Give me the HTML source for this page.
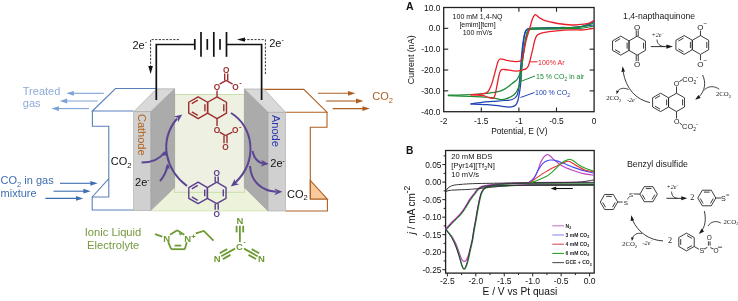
<!DOCTYPE html>
<html><head><meta charset="utf-8">
<style>
html,body{margin:0;padding:0;background:#fff;width:738px;height:301px;overflow:hidden;}
svg{display:block;will-change:transform;}
text{font-family:"Liberation Sans",sans-serif;}
.sf{font-family:"Liberation Serif",serif;}
</style></head><body>
<svg width="738" height="301" viewBox="0 0 738 301">
<polygon points="150.7,210.6 174.6,187.6 244.4,187.6 268.1,210.6" fill="#edf2db"/>
<rect x="174.6" y="94.5" width="69.8" height="97.8" fill="#eef0e2" stroke="#c5dca8" stroke-width="0.9"/>
<line x1="150.7" y1="210.8" x2="268.1" y2="210.8" stroke="#d3e4b8" stroke-width="1"/>
<g fill="none" stroke="#5a80ba" stroke-width="1.1">
<polyline points="156.5,88.5 115.5,88.5 92.4,111 133.7,111"/>
<polyline points="92.4,111 92.4,126.3 108.8,126.3 108.8,197 92.2,197 92.2,210 133.7,210"/>
<line x1="108.8" y1="178.7" x2="92.2" y2="197"/>
</g>
<polygon points="310.3,180.3 310.3,199.1 327.4,199.1" fill="#f9c99e" stroke="#ad5f22" stroke-width="1.1"/>
<g fill="none" stroke="#ad5f22" stroke-width="1.1">
<polyline points="263,89.4 303.8,89.4 327,112.2 285.5,112.2"/>
<polyline points="327,112.2 327,127.3 310.3,127.3 310.3,199.1"/>
<polyline points="327.4,199.1 327.4,211 285.5,211"/>
</g>
<polygon points="150.7,111.75 174.6,88.8 174.6,187.6 150.7,210.6" fill="#ababab" stroke="#9a9a9a" stroke-width="0.6"/>
<polygon points="133.7,111.75 156.7,88.8 174.6,88.8 150.7,111.75" fill="#d9d9d9" stroke="#a0a0a0" stroke-width="0.6"/>
<rect x="133.7" y="111.75" width="17" height="98.85" fill="#d0d0d0" stroke="#a8a8a8" stroke-width="0.6"/>
<polygon points="244.4,89 268.1,112.3 268.1,211 244.4,187.6" fill="#ababab" stroke="#9a9a9a" stroke-width="0.6"/>
<polygon points="244.4,89 263.9,89 285.5,112.3 268.1,112.3" fill="#d9d9d9" stroke="#a0a0a0" stroke-width="0.6"/>
<rect x="268.1" y="112.3" width="17.4" height="98.7" fill="#d0d0d0" stroke="#a8a8a8" stroke-width="0.6"/>
<text transform="translate(137.6,114) rotate(90)" font-size="11" fill="#b2611e">Cathode</text>
<text transform="translate(272.2,115) rotate(90)" font-size="11" fill="#2a35b0">Anode</text>
<g stroke="#111" stroke-width="1.7" fill="none">
<polyline points="156.3,100 156.3,44.5 194.8,44.5"/>
<polyline points="226.5,44.5 261.6,44.5 261.6,100"/>
<line x1="194.8" y1="39" x2="194.8" y2="49.8"/>
<line x1="201" y1="32" x2="201" y2="56.8"/>
<line x1="207.3" y1="39" x2="207.3" y2="49.8"/>
<line x1="213.8" y1="32" x2="213.8" y2="56.8"/>
<line x1="220" y1="39" x2="220" y2="49.8"/>
<line x1="226.5" y1="32" x2="226.5" y2="56.8"/>
</g>
<g stroke="#222" stroke-width="0.9" fill="none" stroke-dasharray="2.2,1.4">
<polyline points="179,39.6 150.6,39.6 150.6,67"/>
<polyline points="265.4,74 265.4,39.6 245,39.6"/>
</g>
<polygon points="148.3,66 152.9,66 150.6,74" fill="#111"/>
<polygon points="245,37.4 245,41.8 237,39.6" fill="#111"/>
<text x="132.5" y="49" font-size="11" fill="#111">2e<tspan font-size="7" dy="-4.6">-</tspan></text>
<text x="269.2" y="46.8" font-size="11" fill="#111">2e<tspan font-size="7" dy="-4.6">-</tspan></text>
<g stroke="#7ea2d6" stroke-width="1.1">
<line x1="103.8" y1="93.3" x2="72" y2="93.3"/>
<line x1="97.8" y1="101" x2="65.5" y2="101"/>
<line x1="89" y1="108.6" x2="57" y2="108.6"/>
</g>
<g fill="#7ea2d6">
<polygon points="66.3,93.3 73.8,90.9 73.8,95.7"/>
<polygon points="59.7,101 67.2,98.6 67.2,103.4"/>
<polygon points="51.4,108.6 58.9,106.2 58.9,111"/>
</g>
<text x="22.8" y="95" font-size="11" fill="#8eabd8">Treated</text>
<text x="22.8" y="107.1" font-size="11" fill="#8eabd8">gas</text>
<g stroke="#3f6eb0" stroke-width="1.1">
<line x1="60" y1="183.3" x2="92" y2="183.3"/>
<line x1="53.5" y1="191.2" x2="85" y2="191.2"/>
<line x1="45.3" y1="198.4" x2="77.5" y2="198.4"/>
</g>
<g fill="#3f6eb0">
<polygon points="97.7,183.3 90.4,180.9 90.4,185.7"/>
<polygon points="90.7,191.2 83.4,188.8 83.4,193.6"/>
<polygon points="83.3,198.4 76,196 76,200.8"/>
</g>
<text x="0.6" y="184.4" font-size="11" fill="#3f6eb0">CO<tspan font-size="7.5" dy="2.5">2</tspan><tspan dy="-2.5"> in gas</tspan></text>
<text x="0.6" y="196.5" font-size="11" fill="#3f6eb0">mixture</text>
<g stroke="#ad5f22" stroke-width="1.1">
<line x1="317.9" y1="93.3" x2="350" y2="93.3"/>
<line x1="326.2" y1="101" x2="358" y2="101"/>
<line x1="332.7" y1="108.6" x2="364.5" y2="108.6"/>
</g>
<g fill="#ad5f22">
<polygon points="355.4,93.3 348,90.9 348,95.7"/>
<polygon points="363.3,101 356,98.6 356,103.4"/>
<polygon points="369.8,108.6 362.5,106.2 362.5,111"/>
</g>
<text x="372.2" y="99.9" font-size="11" fill="#ad5f22">CO<tspan font-size="7.5" dy="2.7">2</tspan></text>
<text x="110.8" y="165.3" font-size="11" fill="#111">CO<tspan font-size="7.5" dy="2.5">2</tspan></text>
<text x="135.1" y="186.2" font-size="11" fill="#111">2e<tspan font-size="7" dy="-4.5">-</tspan></text>
<text x="270.3" y="167.3" font-size="11" fill="#111">2e<tspan font-size="7" dy="-4.5">-</tspan></text>
<text x="287" y="197.6" font-size="11" fill="#111">CO<tspan font-size="7.5" dy="2.5">2</tspan></text>

<polygon points="198.16,96.8 207.6,102.25 207.6,113.15 198.16,118.6 188.72,113.15 188.72,102.25" fill="none" stroke="#9c2f2f" stroke-width="1.4" stroke-linejoin="round"/>
<line x1="191.77" y1="103.61" x2="197.81" y2="100.12" stroke="#9c2f2f" stroke-width="1.4" />
<line x1="197.81" y1="115.28" x2="191.77" y2="111.79" stroke="#9c2f2f" stroke-width="1.4" />
<line x1="204.9" y1="104.21" x2="204.9" y2="111.19" stroke="#9c2f2f" stroke-width="1.4" />
<polygon points="217.04,96.8 226.48,102.25 226.48,113.15 217.04,118.6 207.6,113.15 207.6,102.25" fill="none" stroke="#9c2f2f" stroke-width="1.4" stroke-linejoin="round"/>
<line x1="223.78" y1="104.21" x2="223.78" y2="111.19" stroke="#9c2f2f" stroke-width="1.4" />
<line x1="217.04" y1="96.8" x2="217.04" y2="90.6" stroke="#9c2f2f" stroke-width="1.4" />
<text x="217.04" y="89.59" font-size="8.3" fill="#9c2f2f" text-anchor="middle" font-weight="bold">O</text>
<line x1="219.6" y1="84.2" x2="226.2" y2="80.4" stroke="#9c2f2f" stroke-width="1.4" />
<line x1="226.2" y1="80.4" x2="232.6" y2="84.2" stroke="#9c2f2f" stroke-width="1.4" />
<line x1="224.7" y1="80.6" x2="224.7" y2="73.6" stroke="#9c2f2f" stroke-width="1.4" />
<line x1="227.7" y1="80.6" x2="227.7" y2="73.6" stroke="#9c2f2f" stroke-width="1.4" />
<text x="226.2" y="72.99" font-size="8.3" fill="#9c2f2f" text-anchor="middle" font-weight="bold">O</text>
<text x="235.4" y="89.59" font-size="8.3" fill="#9c2f2f" text-anchor="middle" font-weight="bold">O</text>
<text x="239.3" y="85.2" font-size="7.5" fill="#9c2f2f" font-weight="bold">-</text>
<line x1="217.04" y1="118.6" x2="217.04" y2="126" stroke="#9c2f2f" stroke-width="1.4" />
<text x="217.04" y="132.89" font-size="8.3" fill="#9c2f2f" text-anchor="middle" font-weight="bold">O</text>
<line x1="219.6" y1="132.1" x2="225.5" y2="135.6" stroke="#9c2f2f" stroke-width="1.4" />
<line x1="225.5" y1="135.6" x2="232.4" y2="132.1" stroke="#9c2f2f" stroke-width="1.4" />
<line x1="224" y1="135.5" x2="224" y2="143.2" stroke="#9c2f2f" stroke-width="1.4" />
<line x1="227" y1="135.5" x2="227" y2="143.2" stroke="#9c2f2f" stroke-width="1.4" />
<text x="225.6" y="149.89" font-size="8.3" fill="#9c2f2f" text-anchor="middle" font-weight="bold">O</text>
<text x="235.2" y="132.89" font-size="8.3" fill="#9c2f2f" text-anchor="middle" font-weight="bold">O</text>
<text x="239.1" y="128.9" font-size="7.5" fill="#9c2f2f" font-weight="bold">-</text>
<polygon points="198.09,182.15 207.4,187.53 207.4,198.28 198.09,203.65 188.78,198.28 188.78,187.53" fill="none" stroke="#5a3f8e" stroke-width="1.4" stroke-linejoin="round"/>
<line x1="191.81" y1="188.9" x2="197.76" y2="185.46" stroke="#5a3f8e" stroke-width="1.4" />
<line x1="197.76" y1="200.34" x2="191.81" y2="196.9" stroke="#5a3f8e" stroke-width="1.4" />
<line x1="204.7" y1="189.46" x2="204.7" y2="196.34" stroke="#5a3f8e" stroke-width="1.4" />
<polygon points="216.71,182.15 226.02,187.53 226.02,198.28 216.71,203.65 207.4,198.28 207.4,187.53" fill="none" stroke="#5a3f8e" stroke-width="1.4" stroke-linejoin="round"/>
<line x1="223.32" y1="189.46" x2="223.32" y2="196.34" stroke="#5a3f8e" stroke-width="1.4" />
<line x1="215.21" y1="182.15" x2="215.21" y2="176.4" stroke="#5a3f8e" stroke-width="1.4" />
<line x1="218.21" y1="182.15" x2="218.21" y2="176.4" stroke="#5a3f8e" stroke-width="1.4" />
<text x="216.71" y="175.59" font-size="8.3" fill="#5a3f8e" text-anchor="middle" font-weight="bold">O</text>
<line x1="215.21" y1="203.65" x2="215.21" y2="209.8" stroke="#5a3f8e" stroke-width="1.4" />
<line x1="218.21" y1="203.65" x2="218.21" y2="209.8" stroke="#5a3f8e" stroke-width="1.4" />
<text x="216.71" y="216.79" font-size="8.3" fill="#5a3f8e" text-anchor="middle" font-weight="bold">O</text>
<path d="M187,186 C166,170 158,142 177,118.5" fill="none" stroke="#5b4491" stroke-width="2.0"/>
<polygon points="182.2,114.5 177.96,122.18 177.72,117.86 173.64,116.42" fill="#5b4491" stroke="none" stroke-width="1" />
<path d="M141.6,162.5 C152,162.5 160,159 164.8,152" fill="none" stroke="#5b4491" stroke-width="2.0"/>
<path d="M160,181.2 C163.5,177 166.5,171 167.8,165" fill="none" stroke="#5b4491" stroke-width="2.0"/>
<polygon points="165.2,150.5 167.15,155.6 162.75,155.38" fill="#5b4491" stroke="none" stroke-width="1" />
<polygon points="167.8,163.5 169.75,168.6 165.35,168.38" fill="#5b4491" stroke="none" stroke-width="1" />
<path d="M231,113 C253,126 259,160 235,183" fill="none" stroke="#5b4491" stroke-width="2.0"/>
<polygon points="230.8,186.5 234.8,178.69 235.17,183 239.3,184.31" fill="#5b4491" stroke="none" stroke-width="1" />
<path d="M252.4,151 C254,158 258,162.5 263,163.5" fill="none" stroke="#5b4491" stroke-width="2.0"/>
<polygon points="268.8,164 260.5,166.59 263.23,163.44 261.18,159.82" fill="#5b4491" stroke="none" stroke-width="1" />
<path d="M250,166 C251,182 262,191 276,191.7" fill="none" stroke="#5b4491" stroke-width="2.0"/>
<polygon points="282.3,191.8 274.3,195.2 276.7,191.8 274.3,188.4" fill="#5b4491" stroke="none" stroke-width="1" />
<text x="113" y="235.8" font-size="11.2" fill="#76993e" text-anchor="middle">Ionic Liquid</text>
<text x="113.2" y="248.9" font-size="11.2" fill="#76993e" text-anchor="middle">Electrolyte</text>
<line x1="155" y1="234.2" x2="162.3" y2="236.6" stroke="#6e9a34" stroke-width="1.8" />
<text x="166.6" y="241.62" font-size="9.5" fill="#6e9a34" text-anchor="middle" font-weight="bold">N</text>
<line x1="170" y1="234.8" x2="177.2" y2="230.2" stroke="#6e9a34" stroke-width="1.8" />
<line x1="177.2" y1="230.2" x2="184.3" y2="234.8" stroke="#6e9a34" stroke-width="1.8" />
<text x="187.8" y="241.62" font-size="9.5" fill="#6e9a34" text-anchor="middle" font-weight="bold">N</text>
<text x="191.2" y="239.2" font-size="7.5" fill="#6e9a34" font-weight="bold">+</text>
<line x1="186.8" y1="242.2" x2="184.8" y2="249.2" stroke="#6e9a34" stroke-width="1.8" />
<line x1="184.8" y1="249.2" x2="171.2" y2="249.2" stroke="#6e9a34" stroke-width="1.8" />
<line x1="171.2" y1="249.2" x2="168.2" y2="242.2" stroke="#6e9a34" stroke-width="1.8" />
<line x1="174.6" y1="245.6" x2="181.2" y2="245.6" stroke="#6e9a34" stroke-width="1.8" />
<line x1="179.2" y1="233.4" x2="181.4" y2="235" stroke="#6e9a34" stroke-width="1.5" />
<polyline points="195.8,233.3 203.8,230.9 213.5,240.6" fill="none" stroke="#6e9a34" stroke-width="1.8"/>
<text x="239.9" y="224.22" font-size="9.5" fill="#6e9a34" text-anchor="middle" font-weight="bold">N</text>
<text x="239.4" y="250.02" font-size="9.5" fill="#6e9a34" text-anchor="middle" font-weight="bold">C</text>
<text x="243.6" y="244.2" font-size="6.5" fill="#6e9a34" font-weight="bold">-</text>
<text x="217.3" y="262.42" font-size="9.5" fill="#6e9a34" text-anchor="middle" font-weight="bold">N</text>
<text x="261.5" y="262.42" font-size="9.5" fill="#6e9a34" text-anchor="middle" font-weight="bold">N</text>
<line x1="239.9" y1="225.8" x2="239.9" y2="242" stroke="#6e9a34" stroke-width="1.8" />
<line x1="236.6" y1="225.8" x2="236.6" y2="232.4" stroke="#6e9a34" stroke-width="1.8" />
<line x1="243.2" y1="225.8" x2="243.2" y2="232.4" stroke="#6e9a34" stroke-width="1.8" />
<line x1="235" y1="248.6" x2="221.3" y2="256.2" stroke="#6e9a34" stroke-width="1.8" />
<line x1="227.23" y1="249.13" x2="219.7" y2="253.31" stroke="#6e9a34" stroke-width="1.8" />
<line x1="230.44" y1="254.91" x2="222.9" y2="259.09" stroke="#6e9a34" stroke-width="1.8" />
<line x1="244" y1="248.6" x2="257.6" y2="256.2" stroke="#6e9a34" stroke-width="1.8" />
<line x1="248.51" y1="254.9" x2="255.99" y2="259.08" stroke="#6e9a34" stroke-width="1.8" />
<line x1="251.73" y1="249.14" x2="259.21" y2="253.32" stroke="#6e9a34" stroke-width="1.8" />
<rect x="443.7" y="7.5" width="150.4" height="104.2" fill="none" stroke="#222" stroke-width="1.3"/>
<line x1="443.7" y1="28.34" x2="448.2" y2="28.34" stroke="#222" stroke-width="1.1" />
<line x1="594.1" y1="28.34" x2="589.6" y2="28.34" stroke="#222" stroke-width="1.1" />
<line x1="443.7" y1="49.18" x2="448.2" y2="49.18" stroke="#222" stroke-width="1.1" />
<line x1="594.1" y1="49.18" x2="589.6" y2="49.18" stroke="#222" stroke-width="1.1" />
<line x1="443.7" y1="70.02" x2="448.2" y2="70.02" stroke="#222" stroke-width="1.1" />
<line x1="594.1" y1="70.02" x2="589.6" y2="70.02" stroke="#222" stroke-width="1.1" />
<line x1="443.7" y1="90.86" x2="448.2" y2="90.86" stroke="#222" stroke-width="1.1" />
<line x1="594.1" y1="90.86" x2="589.6" y2="90.86" stroke="#222" stroke-width="1.1" />
<line x1="481.3" y1="7.5" x2="481.3" y2="11.7" stroke="#222" stroke-width="1.1" />
<line x1="481.3" y1="111.7" x2="481.3" y2="107.5" stroke="#222" stroke-width="1.1" />
<line x1="518.9" y1="7.5" x2="518.9" y2="11.7" stroke="#222" stroke-width="1.1" />
<line x1="518.9" y1="111.7" x2="518.9" y2="107.5" stroke="#222" stroke-width="1.1" />
<line x1="556.5" y1="7.5" x2="556.5" y2="11.7" stroke="#222" stroke-width="1.1" />
<line x1="556.5" y1="111.7" x2="556.5" y2="107.5" stroke="#222" stroke-width="1.1" />
<text x="440.4" y="10.5" font-size="8.4" fill="#111" text-anchor="end" >10.0</text>
<text x="440.4" y="31.34" font-size="8.4" fill="#111" text-anchor="end" >0.0</text>
<text x="440.4" y="52.18" font-size="8.4" fill="#111" text-anchor="end" >-10.0</text>
<text x="440.4" y="73.02" font-size="8.4" fill="#111" text-anchor="end" >-20.0</text>
<text x="440.4" y="93.86" font-size="8.4" fill="#111" text-anchor="end" >-30.0</text>
<text x="440.4" y="114.7" font-size="8.4" fill="#111" text-anchor="end" >-40.0</text>
<text x="443.7" y="124.1" font-size="8.4" fill="#111" text-anchor="middle" >-2</text>
<text x="481.3" y="124.1" font-size="8.4" fill="#111" text-anchor="middle" >-1.5</text>
<text x="518.9" y="124.1" font-size="8.4" fill="#111" text-anchor="middle" >-1</text>
<text x="556.5" y="124.1" font-size="8.4" fill="#111" text-anchor="middle" >-0.5</text>
<text x="594.1" y="124.1" font-size="8.4" fill="#111" text-anchor="middle" >0</text>
<text x="519.3" y="133.7" font-size="8.4" fill="#111" text-anchor="middle" >Potential, E (V)</text>
<text transform="translate(413.6,59.8) rotate(-90)" font-size="8.9" fill="#111" text-anchor="middle">Current (nA)</text>
<text x="405.9" y="10.1" font-size="10.5" fill="#111" font-weight="bold">A</text>
<text x="477.5" y="19.2" font-size="7" fill="#111" text-anchor="middle" >100 mM 1,4-NQ</text>
<text x="477.5" y="27.3" font-size="7" fill="#111" text-anchor="middle" >[emim][tcm]</text>
<text x="477.5" y="35.1" font-size="7" fill="#111" text-anchor="middle" >100 mV/s</text>
<path d="M470.5,103.9 C472.4,103.63 478.12,102.72 481.9,102.3 C485.68,101.88 489.42,101.7 493.2,101.4 C496.98,101.1 501.43,100.82 504.6,100.5 C507.77,100.18 510.15,100.3 512.2,99.5 C514.25,98.7 515.8,97.75 516.9,95.7 C518,93.65 518.27,90.83 518.8,87.2 C519.33,83.57 519.7,78.43 520.1,73.9 C520.5,69.37 520.83,64.32 521.2,60 C521.57,55.68 521.88,51.67 522.3,48 C522.72,44.33 523.17,40.83 523.7,38 C524.23,35.17 524.7,32.58 525.5,31 C526.3,29.42 526.92,29 528.5,28.5 C530.08,28 529.75,28.17 535,28 C540.25,27.83 552.5,27.67 560,27.5 C567.5,27.33 574.33,28 580,27 C585.67,26 591.67,22.42 594,21.5" fill="none" stroke="#1f42b4" stroke-width="1.25" stroke-linejoin="round" />
<path d="M470.5,104 C473.35,104.1 482.55,104.25 487.6,104.6 C492.65,104.95 497.33,105.68 500.8,106.1 C504.27,106.52 506.18,107.1 508.4,107.1 C510.62,107.1 512.68,106.73 514.1,106.1 C515.52,105.47 516.12,104.87 516.9,103.3 C517.68,101.73 518.17,100.02 518.8,96.7 C519.43,93.38 520.25,87.85 520.7,83.4 C521.15,78.95 521.22,74.73 521.5,70 C521.78,65.27 522.1,59.33 522.4,55 C522.7,50.67 522.9,47.5 523.3,44 C523.7,40.5 524.18,36.42 524.8,34 C525.42,31.58 525.8,30.37 527,29.5 C528.2,28.63 526.5,28.97 532,28.8 C537.5,28.63 549.67,29.13 560,28.5 C570.33,27.87 588.33,25.58 594,25" fill="none" stroke="#1f42b4" stroke-width="1.25" stroke-linejoin="round" />
<path d="M447.8,95.2 C450.32,95.13 457.22,95.03 462.9,94.8 C468.58,94.57 476.22,94.28 481.9,93.8 C487.58,93.32 493.22,92.68 497,91.9 C500.78,91.12 502.07,90.52 504.6,89.1 C507.13,87.68 510.15,84.98 512.2,83.4 C514.25,81.82 515.63,81.18 516.9,79.6 C518.17,78.02 519,76.1 519.8,73.9 C520.6,71.7 521.12,69.55 521.7,66.4 C522.28,63.25 522.78,58.57 523.3,55 C523.82,51.43 524.27,48.33 524.8,45 C525.33,41.67 525.88,37.5 526.5,35 C527.12,32.5 527.67,31.1 528.5,30 C529.33,28.9 529.58,28.7 531.5,28.4 C533.42,28.1 535.25,28.3 540,28.2 C544.75,28.1 553.33,28.03 560,27.8 C566.67,27.57 574.33,27.6 580,26.8 C585.67,26 591.67,23.63 594,23" fill="none" stroke="#1c8a32" stroke-width="1.25" stroke-linejoin="round" />
<path d="M447.8,95.6 C451.5,95.75 462.75,96.17 470,96.5 C477.25,96.83 486.17,97.1 491.3,97.6 C496.43,98.1 498.27,99.33 500.8,99.5 C503.33,99.67 504.28,99.38 506.5,98.6 C508.72,97.82 512.2,96.38 514.1,94.8 C516,93.22 516.95,91 517.9,89.1 C518.85,87.2 519.23,85.93 519.8,83.4 C520.37,80.87 520.83,77.8 521.3,73.9 C521.77,70 522.12,64.32 522.6,60 C523.08,55.68 523.67,51.67 524.2,48 C524.73,44.33 525.2,40.83 525.8,38 C526.4,35.17 526.93,32.45 527.8,31 C528.67,29.55 528.97,29.63 531,29.3 C533.03,28.97 535.17,29.08 540,29 C544.83,28.92 553.33,28.92 560,28.8 C566.67,28.68 574.33,28.77 580,28.3 C585.67,27.83 591.67,26.38 594,26" fill="none" stroke="#1c8a32" stroke-width="1.25" stroke-linejoin="round" />
<path d="M470.5,94.8 C472.4,94.63 479.05,94.28 481.9,93.8 C484.75,93.32 486.03,93.32 487.6,91.9 C489.17,90.48 490.05,88.62 491.3,85.3 C492.55,81.98 493.98,75.95 495.1,72 C496.22,68.05 497.12,63.8 498,61.6 C498.88,59.4 498.98,59.02 500.4,58.8 C501.82,58.58 503.9,59.83 506.5,60.3 C509.1,60.77 513.63,61.53 516,61.6 C518.37,61.67 519.62,61.3 520.7,60.7 C521.78,60.1 522.02,59.27 522.5,58 C522.98,56.73 522.98,56.07 523.6,53.1 C524.22,50.13 525.23,44.15 526.2,40.2 C527.17,36.25 528.33,33 529.4,29.4 C530.47,25.8 531.6,21.05 532.6,18.6 C533.6,16.15 534.32,14.88 535.4,14.7 C536.48,14.52 537.58,16.57 539.1,17.5 C540.62,18.43 542.17,19.47 544.5,20.3 C546.83,21.13 550.23,21.88 553.1,22.5 C555.97,23.12 558.22,23.58 561.7,24 C565.18,24.42 570.3,24.97 574,25 C577.7,25.03 581.23,24.57 583.9,24.2 C586.57,23.83 588.32,23.45 590,22.8 C591.68,22.15 593.33,20.72 594,20.3" fill="none" stroke="#e8202a" stroke-width="1.3" stroke-linejoin="round" />
<path d="M594,28.3 C592.32,28.57 587.23,29.63 583.9,29.9 C580.57,30.17 577.28,29.87 574,29.9 C570.72,29.93 567.88,29.85 564.2,30.1 C560.52,30.35 555.38,30.98 551.9,31.4 C548.42,31.82 545.35,32.2 543.3,32.6 C541.25,33 540.67,33.32 539.6,33.8 C538.53,34.28 537.7,34.43 536.9,35.5 C536.1,36.57 535.52,37.8 534.8,40.2 C534.08,42.6 533.32,46.85 532.6,49.9 C531.88,52.95 531.22,55.82 530.5,58.5 C529.78,61.18 529.02,64.32 528.3,66 C527.58,67.68 527.1,67.97 526.2,68.6 C525.3,69.23 524.6,69.38 522.9,69.8 C521.2,70.22 519.05,71.15 516,71.1 C512.95,71.05 507.13,69.65 504.6,69.5 C502.07,69.35 501.75,69.15 500.8,70.2 C499.85,71.25 499.53,73.28 498.9,75.8 C498.27,78.32 497.63,82.13 497,85.3 C496.37,88.47 495.73,92.65 495.1,94.8 C494.47,96.95 494.3,97.73 493.2,98.2 C492.1,98.67 490.07,98.02 488.5,97.6 C486.93,97.18 485.53,96.1 483.8,95.7 C482.07,95.3 480.32,95.35 478.1,95.2 C475.88,95.05 471.77,94.87 470.5,94.8" fill="none" stroke="#e8202a" stroke-width="1.3" stroke-linejoin="round" />
<line x1="529.5" y1="61.8" x2="537.5" y2="61.8" stroke="#e8202a" stroke-width="1" />
<line x1="520.5" y1="81.5" x2="535" y2="76" stroke="#1c8a32" stroke-width="1" />
<line x1="520.5" y1="97.5" x2="534.5" y2="92.5" stroke="#1f42b4" stroke-width="1" />
<text x="538" y="65" font-size="7" fill="#e8202a">100% Ar</text>
<text x="536" y="78.8" font-size="7" fill="#1c8a32">15 % CO<tspan font-size="5" dy="2">2</tspan><tspan dy="-2"> in air</tspan></text>
<text x="535" y="95.1" font-size="7" fill="#1f42b4">100 % CO<tspan font-size="5" dy="2">2</tspan></text>
<rect x="445.6" y="150.5" width="148.6" height="122.6" fill="none" stroke="#222" stroke-width="1.3"/>
<line x1="442.3" y1="269.69" x2="445.6" y2="269.69" stroke="#222" stroke-width="1" />
<line x1="443.6" y1="260.93" x2="445.6" y2="260.93" stroke="#222" stroke-width="1" />
<line x1="442.3" y1="252.18" x2="445.6" y2="252.18" stroke="#222" stroke-width="1" />
<line x1="443.6" y1="243.42" x2="445.6" y2="243.42" stroke="#222" stroke-width="1" />
<line x1="442.3" y1="234.66" x2="445.6" y2="234.66" stroke="#222" stroke-width="1" />
<line x1="443.6" y1="225.9" x2="445.6" y2="225.9" stroke="#222" stroke-width="1" />
<line x1="442.3" y1="217.15" x2="445.6" y2="217.15" stroke="#222" stroke-width="1" />
<line x1="443.6" y1="208.39" x2="445.6" y2="208.39" stroke="#222" stroke-width="1" />
<line x1="442.3" y1="199.63" x2="445.6" y2="199.63" stroke="#222" stroke-width="1" />
<line x1="443.6" y1="190.87" x2="445.6" y2="190.87" stroke="#222" stroke-width="1" />
<line x1="442.3" y1="182.12" x2="445.6" y2="182.12" stroke="#222" stroke-width="1" />
<line x1="443.6" y1="173.36" x2="445.6" y2="173.36" stroke="#222" stroke-width="1" />
<line x1="442.3" y1="164.6" x2="445.6" y2="164.6" stroke="#222" stroke-width="1" />
<line x1="443.6" y1="155.84" x2="445.6" y2="155.84" stroke="#222" stroke-width="1" />
<line x1="447.35" y1="273.1" x2="447.35" y2="276.4" stroke="#222" stroke-width="1" />
<line x1="461.58" y1="273.1" x2="461.58" y2="275.1" stroke="#222" stroke-width="1" />
<line x1="475.8" y1="273.1" x2="475.8" y2="276.4" stroke="#222" stroke-width="1" />
<line x1="490.03" y1="273.1" x2="490.03" y2="275.1" stroke="#222" stroke-width="1" />
<line x1="504.25" y1="273.1" x2="504.25" y2="276.4" stroke="#222" stroke-width="1" />
<line x1="518.48" y1="273.1" x2="518.48" y2="275.1" stroke="#222" stroke-width="1" />
<line x1="532.7" y1="273.1" x2="532.7" y2="276.4" stroke="#222" stroke-width="1" />
<line x1="546.93" y1="273.1" x2="546.93" y2="275.1" stroke="#222" stroke-width="1" />
<line x1="561.15" y1="273.1" x2="561.15" y2="276.4" stroke="#222" stroke-width="1" />
<line x1="575.38" y1="273.1" x2="575.38" y2="275.1" stroke="#222" stroke-width="1" />
<line x1="589.6" y1="273.1" x2="589.6" y2="276.4" stroke="#222" stroke-width="1" />
<text x="441.4" y="167.6" font-size="8.3" fill="#111" text-anchor="end" >0.05</text>
<text x="441.4" y="185.12" font-size="8.3" fill="#111" text-anchor="end" >0.00</text>
<text x="441.4" y="202.63" font-size="8.3" fill="#111" text-anchor="end" >-0.05</text>
<text x="441.4" y="220.15" font-size="8.3" fill="#111" text-anchor="end" >-0.10</text>
<text x="441.4" y="237.66" font-size="8.3" fill="#111" text-anchor="end" >-0.15</text>
<text x="441.4" y="255.18" font-size="8.3" fill="#111" text-anchor="end" >-0.20</text>
<text x="441.4" y="272.69" font-size="8.3" fill="#111" text-anchor="end" >-0.25</text>
<text x="447.35" y="283.7" font-size="8.5" fill="#111" text-anchor="middle" >-2.5</text>
<text x="475.8" y="283.7" font-size="8.5" fill="#111" text-anchor="middle" >-2.0</text>
<text x="504.25" y="283.7" font-size="8.5" fill="#111" text-anchor="middle" >-1.5</text>
<text x="532.7" y="283.7" font-size="8.5" fill="#111" text-anchor="middle" >-1.0</text>
<text x="561.15" y="283.7" font-size="8.5" fill="#111" text-anchor="middle" >-0.5</text>
<text x="589.6" y="283.7" font-size="8.5" fill="#111" text-anchor="middle" >0.0</text>
<text x="519.9" y="294.5" font-size="10.2" fill="#111" text-anchor="middle" >E / V vs Pt quasi</text>
<text transform="translate(415.2,210) rotate(-90)" font-size="10" fill="#111" text-anchor="middle"><tspan font-style="italic">j</tspan> / mA cm<tspan font-size="8.5" dy="-5.5">-2</tspan></text>
<text x="405.9" y="154" font-size="10.2" fill="#111" font-weight="bold">B</text>
<text x="451.3" y="159.1" font-size="7.6" fill="#111" >20 mM BDS</text>
<text x="451.3" y="168.1" font-size="7.6" fill="#111">[Pyr14][Tf<tspan font-size="5.5" dy="1.8">2</tspan><tspan dy="-1.8">N]</tspan></text>
<text x="451.3" y="176.9" font-size="7.6" fill="#111" >10 mV/s</text>
<path d="M594,184.7 C588.33,184.72 570.67,184.77 560,184.8 C549.33,184.83 540,184.78 530,184.9 C520,185.02 506.7,185.32 500,185.5 C493.3,185.68 492.22,185.68 489.8,186 C487.38,186.32 486.63,186.8 485.5,187.4 C484.37,188 483.82,188.37 483,189.6 C482.18,190.83 481.43,192 480.6,194.8 C479.77,197.6 478.82,202.25 478,206.4 C477.18,210.55 476.4,215.8 475.7,219.7 C475,223.6 474.37,226.48 473.8,229.8 C473.23,233.12 472.88,236.57 472.3,239.6 C471.72,242.63 470.92,245.52 470.3,248 C469.68,250.48 469.22,252.57 468.6,254.5 C467.98,256.43 467.33,258.43 466.6,259.6 C465.87,260.77 465,261.52 464.2,261.5 C463.4,261.48 462.62,260.92 461.8,259.5 C460.98,258.08 460.27,255.58 459.3,253 C458.33,250.42 457.28,246.83 456,244 C454.72,241.17 453.33,238.4 451.6,236 C449.87,233.6 446.6,230.67 445.6,229.6" fill="none" stroke="#c040c0" stroke-width="1.2" stroke-linejoin="round" />
<path d="M445.3,229.3 C446.58,227.92 450.6,223.48 453,221 C455.4,218.52 457.77,216.62 459.7,214.4 C461.63,212.18 462.95,210.2 464.6,207.7 C466.25,205.2 467.93,201.88 469.6,199.4 C471.27,196.92 473.22,194.57 474.6,192.8 C475.98,191.03 476.52,189.92 477.9,188.8 C479.28,187.68 480.4,186.82 482.9,186.1 C485.4,185.38 490.1,184.9 492.9,184.5 C495.7,184.1 493.57,184.03 499.7,183.7 C505.83,183.37 514.03,182.73 529.7,182.5 C545.37,182.27 583.03,182.33 593.7,182.3" fill="none" stroke="#c040c0" stroke-width="1.1" stroke-linejoin="round" />
<path d="M594.5,185.1 C588.83,185.12 571.17,185.17 560.5,185.2 C549.83,185.23 540.5,185.18 530.5,185.3 C520.5,185.42 507.2,185.72 500.5,185.9 C493.8,186.08 492.72,186.08 490.3,186.4 C487.88,186.72 487.13,187.2 486,187.8 C484.87,188.4 484.32,188.77 483.5,190 C482.68,191.23 481.93,192.4 481.1,195.2 C480.27,198 479.32,202.65 478.5,206.8 C477.68,210.95 476.9,216.2 476.2,220.1 C475.5,224 474.87,226.88 474.3,230.2 C473.73,233.52 473.38,236.92 472.8,240 C472.22,243.08 471.42,245.93 470.8,248.7 C470.18,251.47 469.72,254.02 469.1,256.6 C468.48,259.18 467.83,262.1 467.1,264.2 C466.37,266.3 465.47,268.82 464.7,269.2 C463.93,269.58 463.27,268.3 462.5,266.5 C461.73,264.7 461.1,261.62 460.1,258.4 C459.1,255.18 457.83,250.65 456.5,247.2 C455.17,243.75 453.83,240.67 452.1,237.7 C450.37,234.73 447.1,230.78 446.1,229.4" fill="none" stroke="#20a020" stroke-width="1.1" stroke-linejoin="round" />
<path d="M446.1,230.1 C447.38,228.72 451.4,224.28 453.8,221.8 C456.2,219.32 458.57,217.42 460.5,215.2 C462.43,212.98 463.75,211 465.4,208.5 C467.05,206 468.73,202.68 470.4,200.2 C472.07,197.72 474.02,195.37 475.4,193.6 C476.78,191.83 477.32,190.72 478.7,189.6 C480.08,188.48 481.2,187.62 483.7,186.9 C486.2,186.18 490.9,185.7 493.7,185.3 C496.5,184.9 494.37,184.83 500.5,184.5 C506.63,184.17 514.83,183.53 530.5,183.3 C546.17,183.07 583.83,183.13 594.5,183.1" fill="none" stroke="#20a020" stroke-width="1.0" stroke-linejoin="round" />
<path d="M594,184.9 C588.33,184.92 570.67,184.97 560,185 C549.33,185.03 540,184.98 530,185.1 C520,185.22 506.7,185.52 500,185.7 C493.3,185.88 492.22,185.88 489.8,186.2 C487.38,186.52 486.63,187 485.5,187.6 C484.37,188.2 483.82,188.57 483,189.8 C482.18,191.03 481.43,192.2 480.6,195 C479.77,197.8 478.82,202.45 478,206.6 C477.18,210.75 476.4,216 475.7,219.9 C475,223.8 474.37,226.68 473.8,230 C473.23,233.32 472.88,236.72 472.3,239.8 C471.72,242.88 470.92,245.73 470.3,248.5 C469.68,251.27 469.22,253.82 468.6,256.4 C467.98,258.98 467.33,261.9 466.6,264 C465.87,266.1 464.97,268.62 464.2,269 C463.43,269.38 462.77,268.1 462,266.3 C461.23,264.5 460.6,261.42 459.6,258.2 C458.6,254.98 457.33,250.45 456,247 C454.67,243.55 453.33,240.47 451.6,237.5 C449.87,234.53 446.6,230.58 445.6,229.2" fill="none" stroke="#363048" stroke-width="1.0" stroke-linejoin="round" />
<path d="M445.6,229.8 C446.88,228.42 450.9,223.98 453.3,221.5 C455.7,219.02 458.07,217.12 460,214.9 C461.93,212.68 463.25,210.7 464.9,208.2 C466.55,205.7 468.23,202.38 469.9,199.9 C471.57,197.42 473.52,195.07 474.9,193.3 C476.28,191.53 476.82,190.42 478.2,189.3 C479.58,188.18 480.7,187.32 483.2,186.6 C485.7,185.88 490.4,185.4 493.2,185 C496,184.6 493.87,184.53 500,184.2 C506.13,183.87 514.33,183.23 530,183 C545.67,182.77 583.33,182.83 594,182.8" fill="none" stroke="#363048" stroke-width="0.9" stroke-linejoin="round" />
<path d="M594,179.9 C591.8,180.23 586.47,181.45 580.8,181.9 C575.13,182.35 568.47,182.43 560,182.6 C551.53,182.77 539.17,182.82 530,182.9 C520.83,182.98 514.18,182.98 505,183.1 C495.82,183.22 482.23,183.38 474.9,183.6 C467.57,183.82 464.65,184.1 461,184.4 C457.35,184.7 455.17,184.8 453,185.4 C450.83,186 449.23,186.92 448,188 C446.77,189.08 446,191.25 445.6,191.9" fill="none" stroke="#333" stroke-width="1.0" stroke-linejoin="round" />
<path d="M445.6,191.9 C446.17,191.67 447.43,190.82 449,190.5 C450.57,190.18 451.68,190.18 455,190 C458.32,189.82 464.73,189.67 468.9,189.4 C473.07,189.13 473.98,188.97 480,188.4 C486.02,187.83 496.67,186.53 505,186 C513.33,185.47 515.17,185.4 530,185.2 C544.83,185 583.33,184.87 594,184.8" fill="none" stroke="#333" stroke-width="1.0" stroke-linejoin="round" />
<path d="M529,182.2 C529.67,181.7 531.67,180.8 533,179.2 C534.33,177.6 535.78,175.25 537,172.6 C538.22,169.95 539.2,165.85 540.3,163.3 C541.4,160.75 542.5,158.75 543.6,157.3 C544.7,155.85 545.8,154.82 546.9,154.6 C548,154.38 549.08,155.22 550.2,156 C551.32,156.78 552.27,158.08 553.6,159.3 C554.93,160.52 556.33,161.97 558.2,163.3 C560.07,164.63 561.92,165.98 564.8,167.3 C567.68,168.62 572.17,170.1 575.5,171.2 C578.83,172.3 581.72,173.23 584.8,173.9 C587.88,174.57 592.47,174.98 594,175.2" fill="none" stroke="#c040c0" stroke-width="1.1" stroke-linejoin="round" />
<path d="M529.5,182.2 C530.3,181.48 532.83,179.95 534.3,177.9 C535.77,175.85 536.87,172.33 538.3,169.9 C539.73,167.47 541.35,164.88 542.9,163.3 C544.45,161.72 546.15,160.95 547.6,160.4 C549.05,159.85 550.05,159.92 551.6,160 C553.15,160.08 554.92,160.35 556.9,160.9 C558.88,161.45 561.07,162.35 563.5,163.3 C565.93,164.25 568.62,165.5 571.5,166.6 C574.38,167.7 577.05,168.8 580.8,169.9 C584.55,171 591.8,172.65 594,173.2" fill="none" stroke="#4a4af0" stroke-width="1.1" stroke-linejoin="round" />
<path d="M530,182.4 C530.93,181.77 533.55,180.02 535.6,178.6 C537.65,177.18 540.08,175.35 542.3,173.9 C544.52,172.45 546.7,171.12 548.9,169.9 C551.1,168.68 553.28,167.7 555.5,166.6 C557.72,165.5 560.42,164.15 562.2,163.3 C563.98,162.45 565.1,161.83 566.2,161.5 C567.3,161.17 567.7,161 568.8,161.3 C569.9,161.6 571.25,162.42 572.8,163.3 C574.35,164.18 576.1,165.5 578.1,166.6 C580.1,167.7 582.15,169.02 584.8,169.9 C587.45,170.78 592.47,171.57 594,171.9" fill="none" stroke="#e83030" stroke-width="1.1" stroke-linejoin="round" />
<path d="M531,182.6 C532.22,182.15 535.77,180.9 538.3,179.9 C540.83,178.9 543.98,177.82 546.2,176.6 C548.42,175.38 549.82,174.15 551.6,172.6 C553.38,171.05 555.13,168.97 556.9,167.3 C558.67,165.63 560.65,163.75 562.2,162.6 C563.75,161.45 564.98,160.95 566.2,160.4 C567.42,159.85 568.18,159.15 569.5,159.3 C570.82,159.45 572.45,160.3 574.1,161.3 C575.75,162.3 577.4,164.08 579.4,165.3 C581.4,166.52 583.67,167.62 586.1,168.6 C588.53,169.58 592.68,170.77 594,171.2" fill="none" stroke="#20a020" stroke-width="1.1" stroke-linejoin="round" />
<line x1="572.8" y1="188.5" x2="555" y2="188.5" stroke="#111" stroke-width="1.1" />
<polygon points="550.6,188.5 556.2,186.4 556.2,190.6" fill="#111" stroke="none" stroke-width="1" />
<line x1="552.3" y1="225.8" x2="563.9" y2="225.8" stroke="#c878c8" stroke-width="1.1" />
<text x="565.6" y="227.6" font-size="5" font-weight="bold" fill="#222">N<tspan font-size="3.6" dy="1.2">2</tspan></text>
<line x1="552.3" y1="235" x2="563.9" y2="235" stroke="#8c8cff" stroke-width="1.1" />
<text x="565.6" y="236.8" font-size="5" font-weight="bold" fill="#222">3 mM CO<tspan font-size="3.6" dy="1.2">2</tspan></text>
<line x1="552.3" y1="244.2" x2="563.9" y2="244.2" stroke="#d45060" stroke-width="1.1" />
<text x="565.6" y="246.0" font-size="5" font-weight="bold" fill="#222">4 mM CO<tspan font-size="3.6" dy="1.2">2</tspan></text>
<line x1="552.3" y1="253.4" x2="563.9" y2="253.4" stroke="#28a028" stroke-width="1.1" />
<text x="565.6" y="255.2" font-size="5" font-weight="bold" fill="#222">6 mM CO<tspan font-size="3.6" dy="1.2">2</tspan></text>
<line x1="552.3" y1="262.6" x2="563.9" y2="262.6" stroke="#555" stroke-width="1.1" />
<text x="565.6" y="264.4" font-size="5" font-weight="bold" fill="#222">GCE + CO<tspan font-size="3.6" dy="1.2">2</tspan></text>
<text x="623.1" y="19" font-size="8.65" fill="#1a1a1a" >1,4-napthaquinone</text>
<polygon points="620.77,36.15 629,40.9 629,50.4 620.77,55.15 612.55,50.4 612.55,40.9" fill="none" stroke="#1a1a1a" stroke-width="0.85" stroke-linejoin="round"/>
<line x1="614.98" y1="41.69" x2="620.24" y2="38.65" stroke="#1a1a1a" stroke-width="0.85" />
<line x1="620.24" y1="52.65" x2="614.98" y2="49.61" stroke="#1a1a1a" stroke-width="0.85" />
<line x1="627.1" y1="42.61" x2="627.1" y2="48.69" stroke="#1a1a1a" stroke-width="0.85" />
<polygon points="637.23,36.15 645.45,40.9 645.45,50.4 637.23,55.15 629,50.4 629,40.9" fill="none" stroke="#1a1a1a" stroke-width="0.85" stroke-linejoin="round"/>
<line x1="643.55" y1="42.61" x2="643.55" y2="48.69" stroke="#1a1a1a" stroke-width="0.85" />
<line x1="636.23" y1="36.2" x2="636.23" y2="30.3" stroke="#1a1a1a" stroke-width="0.85" />
<line x1="638.23" y1="36.2" x2="638.23" y2="30.3" stroke="#1a1a1a" stroke-width="0.85" />
<line x1="636.23" y1="55.1" x2="636.23" y2="61.2" stroke="#1a1a1a" stroke-width="0.85" />
<line x1="638.23" y1="55.1" x2="638.23" y2="61.2" stroke="#1a1a1a" stroke-width="0.85" />
<text x="637.23" y="29.88" font-size="8" fill="#1a1a1a" text-anchor="middle" >O</text>
<text x="637.23" y="67.38" font-size="8" fill="#1a1a1a" text-anchor="middle" >O</text>
<line x1="650.8" y1="46.6" x2="667.5" y2="46.6" stroke="#1a1a1a" stroke-width="0.9" />
<polygon points="672.9,46.6 666.4,48.7 666.4,44.5" fill="#1a1a1a" stroke="none" stroke-width="1" />
<path d="M657,39.5 C657,43.5 659.5,46.3 664.5,46.6" fill="none" stroke="#1a1a1a" stroke-width="0.8"/>
<text class="sf" x="651.5" y="37" font-size="6.2" fill="#1a1a1a" font-style="italic">+2e<tspan font-size="4" dy="-2.2">−</tspan></text>
<polygon points="684.12,35.55 692.3,40.27 692.3,49.73 684.12,54.45 675.93,49.73 675.93,40.27" fill="none" stroke="#1a1a1a" stroke-width="0.85" stroke-linejoin="round"/>
<line x1="678.36" y1="41.07" x2="683.59" y2="38.05" stroke="#1a1a1a" stroke-width="0.85" />
<line x1="683.59" y1="51.95" x2="678.36" y2="48.93" stroke="#1a1a1a" stroke-width="0.85" />
<line x1="690.4" y1="41.98" x2="690.4" y2="48.02" stroke="#1a1a1a" stroke-width="0.85" />
<polygon points="700.48,35.55 708.67,40.27 708.67,49.73 700.48,54.45 692.3,49.73 692.3,40.27" fill="none" stroke="#1a1a1a" stroke-width="0.85" stroke-linejoin="round"/>
<line x1="706.77" y1="41.98" x2="706.77" y2="48.02" stroke="#1a1a1a" stroke-width="0.85" />
<line x1="700.48" y1="35.85" x2="700.48" y2="30.6" stroke="#1a1a1a" stroke-width="0.85" />
<line x1="700.48" y1="54.85" x2="700.48" y2="60.3" stroke="#1a1a1a" stroke-width="0.85" />
<text x="700.48" y="29.88" font-size="8" fill="#1a1a1a" text-anchor="middle" >O</text>
<text x="703.58" y="26.4" font-size="6.5" fill="#1a1a1a" >−</text>
<text x="700.48" y="66.88" font-size="8" fill="#1a1a1a" text-anchor="middle" >O</text>
<text x="703.58" y="63.4" font-size="6.5" fill="#1a1a1a" >−</text>
<polygon points="660.58,93.2 668.55,97.8 668.55,107 660.58,111.6 652.62,107 652.62,97.8" fill="none" stroke="#1a1a1a" stroke-width="0.85" stroke-linejoin="round"/>
<line x1="655" y1="98.62" x2="660.1" y2="95.67" stroke="#1a1a1a" stroke-width="0.85" />
<line x1="660.1" y1="109.13" x2="655" y2="106.18" stroke="#1a1a1a" stroke-width="0.85" />
<line x1="666.65" y1="99.46" x2="666.65" y2="105.34" stroke="#1a1a1a" stroke-width="0.85" />
<polygon points="676.52,93.2 684.48,97.8 684.48,107 676.52,111.6 668.55,107 668.55,97.8" fill="none" stroke="#1a1a1a" stroke-width="0.85" stroke-linejoin="round"/>
<line x1="682.58" y1="99.46" x2="682.58" y2="105.34" stroke="#1a1a1a" stroke-width="0.85" />
<line x1="676.52" y1="93.2" x2="676.52" y2="86.4" stroke="#1a1a1a" stroke-width="0.85" />
<line x1="676.52" y1="111.6" x2="676.52" y2="118.6" stroke="#1a1a1a" stroke-width="0.85" />
<text x="676.52" y="85.92" font-size="7" fill="#1a1a1a" text-anchor="middle" >O</text>
<text x="676.82" y="124.02" font-size="7" fill="#1a1a1a" text-anchor="middle" >O</text>
<line x1="679.3" y1="81.6" x2="682.4" y2="79.6" stroke="#1a1a1a" stroke-width="0.85" />
<line x1="679.6" y1="123" x2="682.3" y2="125" stroke="#1a1a1a" stroke-width="0.85" />
<text x="682.3" y="81.7" font-size="7.4" fill="#1a1a1a" >CO<tspan font-size="5" dy="1.8">2</tspan><tspan font-size="6" dy="-4.6">-</tspan></text>
<text x="682.1" y="128.7" font-size="7.4" fill="#1a1a1a" >CO<tspan font-size="5" dy="1.8">2</tspan><tspan font-size="6" dy="-4.6">-</tspan></text>
<path d="M650,102.6 C636,99.5 626,89 623.1,71.5" fill="none" stroke="#1a1a1a" stroke-width="0.85"/>
<polygon points="622.6,66.2 625.04,71.45 621.47,71.88" fill="#1a1a1a" stroke="none" stroke-width="1" />
<path d="M628.6,89.6 C624,87.3 619.2,88 617.2,92" fill="none" stroke="#1a1a1a" stroke-width="0.8"/>
<polygon points="616.6,94.2 616.26,90.45 618.95,91.25" fill="#1a1a1a" stroke="none" stroke-width="1" />
<text class="sf" x="606.2" y="99.9" font-size="6.8" fill="#1a1a1a" >2CO<tspan font-size="4.8" dy="1.6">2</tspan></text>
<text class="sf" x="626.9" y="102.4" font-size="6.2" fill="#1a1a1a" font-style="italic">-2e<tspan font-size="4" dy="-2.2">−</tspan></text>
<path d="M702.6,75 C706,82 705.5,91 698.5,97.2" fill="none" stroke="#1a1a1a" stroke-width="0.85"/>
<polygon points="695.1,99.8 698.36,94.98 700.64,98.02" fill="#1a1a1a" stroke="none" stroke-width="1" />
<path d="M719.3,89.2 C714,85.5 708,86 704.3,90" fill="none" stroke="#1a1a1a" stroke-width="0.8"/>
<text class="sf" x="715.9" y="96.3" font-size="6.8" fill="#1a1a1a" >2CO<tspan font-size="4.8" dy="1.6">2</tspan></text>
<text x="626.9" y="167" font-size="8.8" fill="#1a1a1a" >Benzyl disulfide</text>
<polygon points="600.3,202 604.65,194.47 613.35,194.47 617.7,202 613.35,209.53 604.65,209.53" fill="none" stroke="#1a1a1a" stroke-width="0.85" stroke-linejoin="round"/>
<line x1="606.22" y1="196.37" x2="611.78" y2="196.37" stroke="#1a1a1a" stroke-width="0.85" />
<line x1="615.27" y1="202.41" x2="612.49" y2="207.23" stroke="#1a1a1a" stroke-width="0.85" />
<line x1="605.51" y1="207.23" x2="602.73" y2="202.41" stroke="#1a1a1a" stroke-width="0.85" />
<line x1="617.7" y1="202" x2="622.6" y2="202.1" stroke="#1a1a1a" stroke-width="0.85" />
<text x="625.7" y="204.63" font-size="6.2" fill="#1a1a1a" text-anchor="middle" >S</text>
<line x1="627.2" y1="199.2" x2="629.6" y2="196.8" stroke="#1a1a1a" stroke-width="0.85" />
<text x="631.1" y="196.73" font-size="6.2" fill="#1a1a1a" text-anchor="middle" >S</text>
<line x1="633.6" y1="193.9" x2="639.9" y2="194.1" stroke="#1a1a1a" stroke-width="0.85" />
<polygon points="639.9,194.2 644.25,186.67 652.95,186.67 657.3,194.2 652.95,201.73 644.25,201.73" fill="none" stroke="#1a1a1a" stroke-width="0.85" stroke-linejoin="round"/>
<line x1="645.82" y1="188.57" x2="651.38" y2="188.57" stroke="#1a1a1a" stroke-width="0.85" />
<line x1="654.87" y1="194.61" x2="652.09" y2="199.43" stroke="#1a1a1a" stroke-width="0.85" />
<line x1="645.11" y1="199.43" x2="642.33" y2="194.61" stroke="#1a1a1a" stroke-width="0.85" />
<line x1="666.4" y1="198.3" x2="682.5" y2="198.3" stroke="#1a1a1a" stroke-width="0.9" />
<polygon points="687.3,198.3 681.3,200.3 681.3,196.3" fill="#1a1a1a" stroke="none" stroke-width="1" />
<path d="M671.6,191.6 C671.6,195 673.3,198 677.5,198.3" fill="none" stroke="#1a1a1a" stroke-width="0.8"/>
<text class="sf" x="666.6" y="189.3" font-size="6.2" fill="#1a1a1a" font-style="italic">+2e<tspan font-size="4" dy="-2.2">−</tspan></text>
<text class="sf" x="690.3" y="200.2" font-size="8.2" fill="#1a1a1a" >2</text>
<polygon points="697.8,198 702.3,190.21 711.3,190.21 715.8,198 711.3,205.79 702.3,205.79" fill="none" stroke="#1a1a1a" stroke-width="0.85" stroke-linejoin="round"/>
<line x1="703.92" y1="192.11" x2="709.68" y2="192.11" stroke="#1a1a1a" stroke-width="0.85" />
<line x1="713.34" y1="198.45" x2="710.46" y2="203.44" stroke="#1a1a1a" stroke-width="0.85" />
<line x1="703.14" y1="203.44" x2="700.26" y2="198.45" stroke="#1a1a1a" stroke-width="0.85" />
<line x1="715.8" y1="198" x2="721.2" y2="198" stroke="#1a1a1a" stroke-width="0.85" />
<text x="723.5" y="200.69" font-size="7.2" fill="#1a1a1a" text-anchor="middle" >S</text>
<line x1="726.2" y1="195" x2="729.1" y2="195" stroke="#1a1a1a" stroke-width="0.8" />
<path d="M704.3,211 C706.3,219 705.3,227 700.6,232.2" fill="none" stroke="#1a1a1a" stroke-width="0.85"/>
<polygon points="698.9,234.1 701.45,228.87 704.13,231.55" fill="#1a1a1a" stroke="none" stroke-width="1" />
<path d="M720.8,223 C716,220.3 711,221.6 707.9,226" fill="none" stroke="#1a1a1a" stroke-width="0.8"/>
<text class="sf" x="723.4" y="223.6" font-size="6.8" fill="#1a1a1a" >2CO<tspan font-size="4.8" dy="1.6">2</tspan></text>
<text class="sf" x="668" y="243.2" font-size="8.2" fill="#1a1a1a" >2</text>
<polygon points="686.5,233.1 694.21,237.55 694.21,246.45 686.5,250.9 678.79,246.45 678.79,237.55" fill="none" stroke="#1a1a1a" stroke-width="0.85" stroke-linejoin="round"/>
<line x1="686.94" y1="235.55" x2="691.87" y2="238.39" stroke="#1a1a1a" stroke-width="0.85" />
<line x1="691.87" y1="245.61" x2="686.94" y2="248.45" stroke="#1a1a1a" stroke-width="0.85" />
<line x1="680.69" y1="244.85" x2="680.69" y2="239.15" stroke="#1a1a1a" stroke-width="0.85" />
<line x1="694.2" y1="246.5" x2="699" y2="249.3" stroke="#1a1a1a" stroke-width="0.85" />
<text x="701.9" y="253.29" font-size="7.2" fill="#1a1a1a" text-anchor="middle" >S</text>
<line x1="704" y1="249" x2="707.4" y2="247.4" stroke="#1a1a1a" stroke-width="0.85" />
<line x1="708.4" y1="245.6" x2="708.4" y2="241.4" stroke="#1a1a1a" stroke-width="0.85" />
<line x1="710.1" y1="245.6" x2="710.1" y2="241.4" stroke="#1a1a1a" stroke-width="0.85" />
<text x="709.3" y="240.24" font-size="6.5" fill="#1a1a1a" text-anchor="middle" >O</text>
<line x1="710.2" y1="247.6" x2="713.6" y2="249" stroke="#1a1a1a" stroke-width="0.85" />
<text x="716" y="253.34" font-size="6.5" fill="#1a1a1a" text-anchor="middle" >O</text>
<line x1="717.9" y1="247.2" x2="722.1" y2="247.2" stroke="#1a1a1a" stroke-width="0.8" />
<path d="M663,240.9 C650,240.3 638,233 632.3,219.5" fill="none" stroke="#1a1a1a" stroke-width="0.85"/>
<polygon points="631.3,215.2 634.14,220.24 630.61,220.95" fill="#1a1a1a" stroke="none" stroke-width="1" />
<path d="M641.9,233.6 C637.2,232.4 633.5,234.6 632.2,238.6" fill="none" stroke="#1a1a1a" stroke-width="0.8"/>
<polygon points="631.9,241 631.03,237.33 633.8,237.75" fill="#1a1a1a" stroke="none" stroke-width="1" />
<text class="sf" x="622" y="245.9" font-size="6.8" fill="#1a1a1a" >2CO<tspan font-size="4.8" dy="1.6">2</tspan></text>
<text class="sf" x="642.5" y="244.5" font-size="6.2" fill="#1a1a1a" font-style="italic">-2e<tspan font-size="4" dy="-2.2">−</tspan></text>
</svg>
</body></html>
